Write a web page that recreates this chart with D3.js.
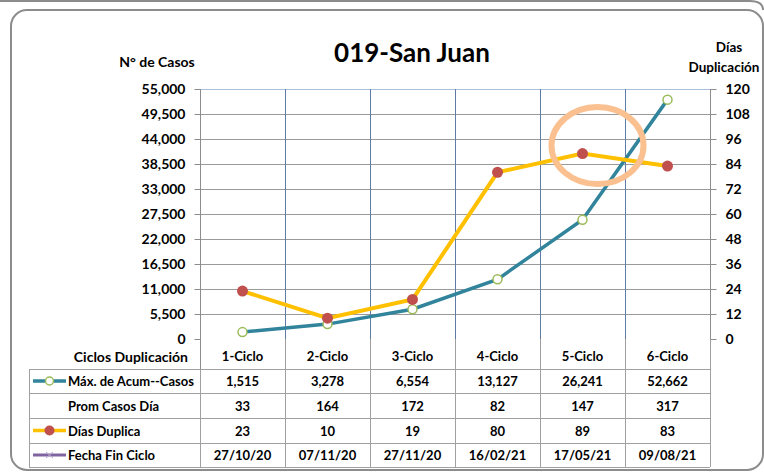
<!DOCTYPE html>
<html><head><meta charset="utf-8">
<script src="https://cdn.jsdelivr.net/npm/d3@7"></script>
<style>body{margin:0;background:#fff}svg{display:block;font-family:Lato,"Open Sans",sans-serif;font-weight:bold}</style>
</head><body><svg id="c" width="764" height="472"></svg>
<script>
const categories = ["1-Ciclo","2-Ciclo","3-Ciclo","4-Ciclo","5-Ciclo","6-Ciclo"];
const casos = [1515, 3278, 6554, 13127, 26241, 52662];
const promCasos = [33, 164, 172, 82, 147, 317];
const diasDuplica = [23, 10, 19, 80, 89, 83];
const fechaFin = ["27/10/20","07/11/20","27/11/20","16/02/21","17/05/21","09/08/21"];
const leftTicks = [0,5500,11000,16500,22000,27500,33000,38500,44000,49500,55000];
const rightTicks = [0,12,24,36,48,60,72,84,96,108,120];
const highlightIndex = 4;

const svg = d3.select("#c");
const L = 200, R = 710, T = 89, B = 339;
const x = d3.scaleBand().domain(categories).range([L, R]);
const yL = d3.scaleLinear().domain([0, 55000]).range([B, T]);
const yR = d3.scaleLinear().domain([0, 120]).range([B, T]);

// frames
svg.append("line").attr("x1",0).attr("x2",750).attr("y1",1).attr("y2",1).attr("stroke","#8c8c8c").attr("stroke-width",2);
svg.append("path").attr("d","M750,1 Q763,1 763,10").attr("fill","none").attr("stroke","#8c8c8c").attr("stroke-width",2);
svg.append("rect").attr("x",11).attr("y",10).attr("width",752).attr("height",460).attr("rx",16)
  .attr("fill","#fff").attr("stroke","#8c8c8c").attr("stroke-width",2);

// horizontal gridlines
svg.append("g").selectAll("line").data(leftTicks.slice(1,-1)).join("line")
  .attr("x1",L).attr("x2",R).attr("y1",d=>yL(d)+0.5).attr("y2",d=>yL(d)+0.5)
  .attr("stroke","#9a9a9a").attr("stroke-width",1);
svg.append("line").attr("x1",L).attr("x2",R).attr("y1",T+0.5).attr("y2",T+0.5).attr("stroke","#a9c0da");
// vertical gridlines in plot
svg.append("g").selectAll("line").data(categories.slice(1)).join("line")
  .attr("x1",d=>x(d)+0.5).attr("x2",d=>x(d)+0.5).attr("y1",T).attr("y2",B)
  .attr("stroke","#5f7ca6").attr("stroke-width",1);

// axes (left, right)
const axL = d3.axisLeft(yL).tickValues(leftTicks).tickSize(6).tickPadding(9).tickFormat(d3.format(","));
const gL = svg.append("g").attr("transform",`translate(${L+0.5},0)`).call(axL);
const axR = d3.axisRight(yR).tickValues(rightTicks).tickSize(6).tickPadding(9);
const gR = svg.append("g").attr("transform",`translate(${R+0.5},0)`).call(axR);
[gL,gR].forEach(g=>{
  g.select(".domain").attr("stroke","#8c8c8c").attr("d", g===gL?`M0,${T}V369`:`M0,${T}V${B}`);
  g.selectAll(".tick line").attr("stroke","#8c8c8c");
  g.selectAll("text").attr("fill","#000").style("font-size","14px").style("font-weight","bold").style("font-family","Lato,sans-serif");
});

// table
const rowsY = [339, 369, 393, 418, 443, 467];
const tg = svg.append("g");
tg.selectAll("line.h").data(rowsY.slice(1)).join("line")
  .attr("x1",29).attr("x2",R).attr("y1",d=>d+0.5).attr("y2",d=>d+0.5).attr("stroke","#a0a0a0");
tg.append("line").attr("x1",29.5).attr("x2",29.5).attr("y1",369).attr("y2",467).attr("stroke","#a0a0a0");
tg.selectAll("line.v").data(categories.slice(1)).join("line")
  .attr("x1",d=>x(d)+0.5).attr("x2",d=>x(d)+0.5).attr("y1",B).attr("y2",467).attr("stroke","#a0a0a0");
tg.append("line").attr("x1",R+0.5).attr("x2",R+0.5).attr("y1",B).attr("y2",467).attr("stroke","#a0a0a0");
tg.append("line").attr("x1",L+0.5).attr("x2",L+0.5).attr("y1",369).attr("y2",467).attr("stroke","#a0a0a0");

const rowData = [categories, casos.map(d3.format(",")), promCasos.map(String), diasDuplica.map(String), fechaFin];
rowData.forEach((row,i)=>{
  const cy = (rowsY[i]+rowsY[i+1])/2 + (i===0?2:0);
  tg.selectAll(null).data(row).join("text")
    .attr("x",(d,j)=>x(categories[j])+x.bandwidth()/2).attr("y",cy+5)
    .attr("text-anchor","middle").style("font-size","13px").text(d=>d);
});
const rowLabels = ["Ciclos Duplicación","Máx. de Acum--Casos","Prom Casos Día","Días Duplica","Fecha Fin Ciclo"];
const cyOf = i => (rowsY[i]+rowsY[i+1])/2 + 5;
svg.append("text").attr("x",188).attr("y",cyOf(0)+3).attr("text-anchor","end").style("font-size","14px").text(rowLabels[0]);
svg.append("text").attr("x",68).attr("y",cyOf(1)).style("font-size","13px").text(rowLabels[1]);
svg.append("text").attr("x",68).attr("y",cyOf(2)).style("font-size","13px").text(rowLabels[2]);
svg.append("text").attr("x",68).attr("y",cyOf(3)).style("font-size","13px").text(rowLabels[3]);
svg.append("text").attr("x",68).attr("y",cyOf(4)).style("font-size","13px").text(rowLabels[4]);
// legend keys
const k1 = (rowsY[1]+rowsY[2])/2, k3=(rowsY[3]+rowsY[4])/2, k4=(rowsY[4]+rowsY[5])/2;
svg.append("line").attr("x1",33).attr("x2",66).attr("y1",k1).attr("y2",k1).attr("stroke","#31849b").attr("stroke-width",3.5);
svg.append("circle").attr("cx",49.5).attr("cy",k1).attr("r",4).attr("fill","#fff").attr("stroke","#9bbb59").attr("stroke-width",1.5);
svg.append("line").attr("x1",33).attr("x2",66).attr("y1",k3).attr("y2",k3).attr("stroke","#ffc000").attr("stroke-width",3.5);
svg.append("circle").attr("cx",49.5).attr("cy",k3).attr("r",5).attr("fill","#c0504d");
svg.append("line").attr("x1",33).attr("x2",66).attr("y1",k4).attr("y2",k4).attr("stroke","#8064a2").attr("stroke-width",3);
svg.append("path").attr("d",`M46,${k4-3}l7,6M46,${k4+3}l7,-6`).attr("stroke","#b3a2c7").attr("stroke-width",1);

// series
const cx = d => x(d)+x.bandwidth()/2;
svg.append("path").datum(casos).attr("fill","none").attr("stroke","#31849b").attr("stroke-width",3.5)
  .attr("d", d3.line().x((d,i)=>cx(categories[i])).y(d=>yL(d)));
svg.append("path").datum(diasDuplica).attr("fill","none").attr("stroke","#ffc000").attr("stroke-width",4)
  .attr("d", d3.line().x((d,i)=>cx(categories[i])).y(d=>yR(d)));
svg.selectAll("circle.c").data(casos).join("circle").attr("cx",(d,i)=>cx(categories[i])).attr("cy",d=>yL(d))
  .attr("r",4.5).attr("fill","#fff").attr("stroke","#9bbb59").attr("stroke-width",1.5);
svg.selectAll("circle.d").data(diasDuplica).join("circle").attr("cx",(d,i)=>cx(categories[i])).attr("cy",d=>yR(d))
  .attr("r",5.5).attr("fill","#c0504d");

// highlight ellipse
svg.append("ellipse").attr("cx",cx(categories[highlightIndex])+15).attr("cy",yR(diasDuplica[highlightIndex])-8)
  .attr("rx",46).attr("ry",38.5).attr("fill","none").attr("stroke","#fac090").attr("stroke-width",6);

// titles
svg.append("text").attr("x",412).attr("y",62).attr("text-anchor","middle").style("font-size","26px").text("019-San Juan");
svg.append("text").attr("x",157).attr("y",67).attr("text-anchor","middle").style("font-size","14px").text("N° de Casos");
svg.append("text").attr("x",729).attr("y",52).attr("text-anchor","middle").style("font-size","13.5px").text("Días");
svg.append("text").attr("x",724).attr("y",72).attr("text-anchor","middle").style("font-size","13.5px").text("Duplicación");
</script></body></html>
